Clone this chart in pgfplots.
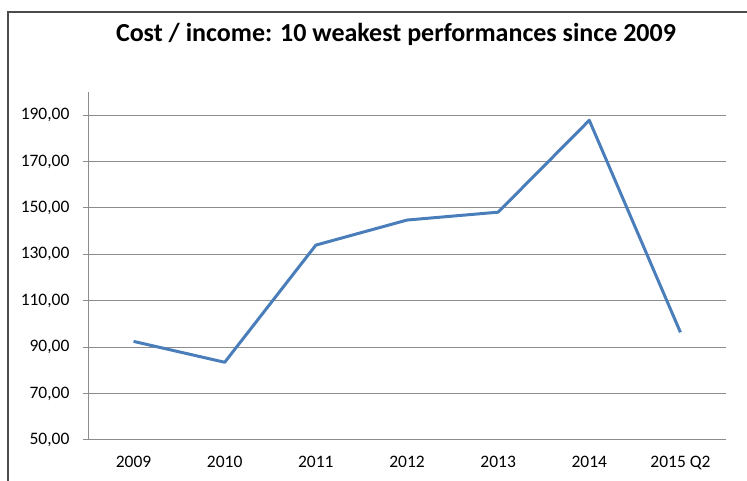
\documentclass[border=0pt]{standalone}
\usepackage{pgfplots}
\pgfplotsset{compat=1.18}
\usepackage{fontspec}
\setmainfont{Carlito}
\definecolor{linecol}{HTML}{4A7EBB}
\definecolor{gridcol}{HTML}{8C8C8C}
\begin{document}
\begin{tikzpicture}[x=1pt,y=1pt]
\useasboundingbox (0,0) rectangle (747,481);
\draw[line width=2pt, color=black!70] (8,0) -- (8,469) -- (747,469);
\node[anchor=base, font=\fontsize{26}{30}\selectfont\bfseries] at (396,439) {Cost / income: 10 weakest performances since 2009};
\begin{axis}[
  at={(88pt,41pt)}, anchor=south west,
  scale only axis, width=638pt, height=348pt,
  xmin=0, xmax=7, ymin=50, ymax=200,
  axis x line*=bottom, axis y line*=left,
  axis line style={gridcol, line width=1pt, -},
  xtick={0.5,1.5,...,6.5},
  xticklabels={2009,2010,2011,2012,2013,2014,2015 Q2},
  minor xtick={0,1,...,7},
  ytick={50,70,...,190},
  ymajorgrids, grid style={gridcol, line width=1pt},
  tick align=outside,
  major tick style={gridcol, line width=1pt},
  minor tick style={gridcol, line width=1pt},
  xtick style={draw=none},
  minor tick length=6pt, major tick length=5pt,
  tick label style={font=\fontsize{17.5}{20}\selectfont},
  yticklabel style={xshift=-10pt},
  xticklabel style={yshift=-8pt},
  /pgf/number format/.cd, fixed, fixed zerofill, precision=2, use comma, 1000 sep={}, assume math mode=true,
]
\addplot[color=linecol, line width=3pt, line join=round, mark=none] coordinates {
(0.5,92.5) (1.5,83.5) (2.5,134.0) (3.5,144.8) (4.5,148.2) (5.5,187.8) (6.5,96.4)
};
\end{axis}
\end{tikzpicture}
\end{document}
